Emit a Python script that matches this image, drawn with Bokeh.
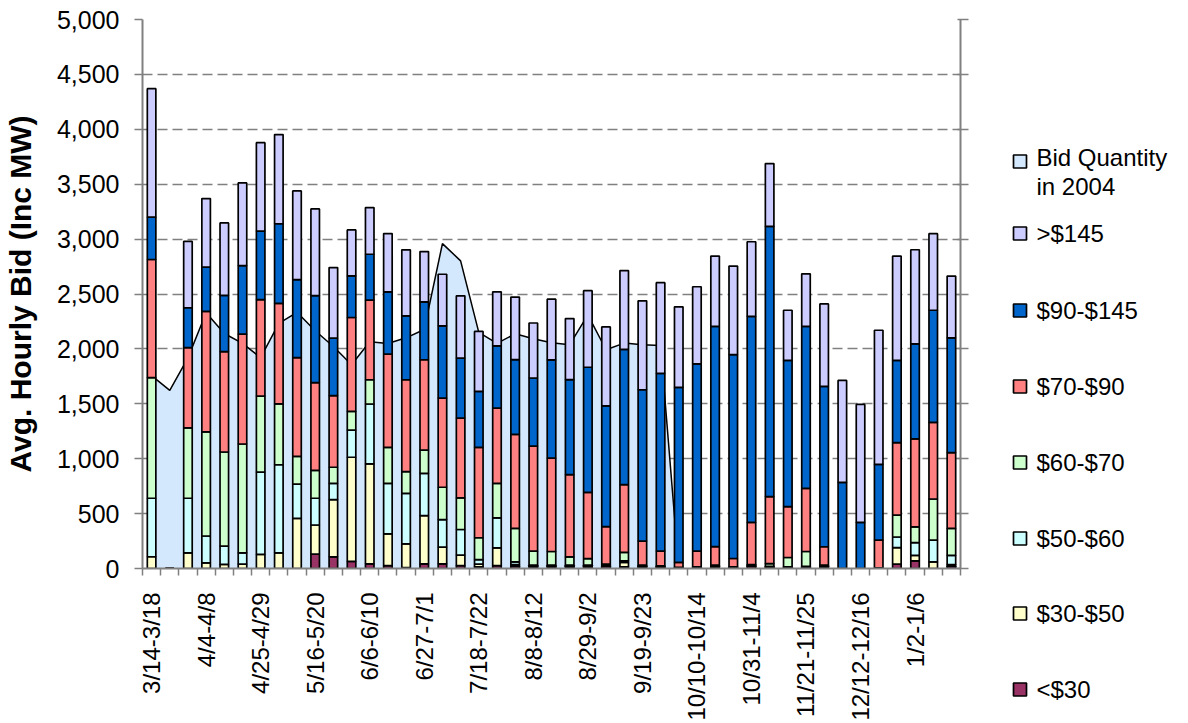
import math
from bokeh.plotting import figure
from bokeh.layouts import row, column
from bokeh.core.properties import value
from bokeh.models import (Range1d, FixedTicker, SingleIntervalTicker, NumeralTickFormatter,
                          LinearAxis, ColumnDataSource)
from bokeh.embed import file_html
from bokeh.resources import INLINE

# ---------------- data ----------------
weeks = ["3/14-3/18", "3/21-3/25", "3/28-4/1", "4/4-4/8", "4/11-4/15", "4/18-4/22",
         "4/25-4/29", "5/2-5/6", "5/9-5/13", "5/16-5/20", "5/23-5/27", "5/30-6/3",
         "6/6-6/10", "6/13-6/17", "6/20-6/24", "6/27-7/1", "7/4-7/8", "7/11-7/15",
         "7/18-7/22", "7/25-7/29", "8/1-8/5", "8/8-8/12", "8/15-8/19", "8/22-8/26",
         "8/29-9/2", "9/5-9/9", "9/12-9/16", "9/19-9/23", "9/26-9/30", "10/3-10/7",
         "10/10-10/14", "10/17-10/21", "10/24-10/28", "10/31-11/4", "11/7-11/11",
         "11/14-11/18", "11/21-11/25", "11/28-12/2", "12/5-12/9", "12/12-12/16",
         "12/19-12/23", "12/26-12/30", "1/2-1/6", "1/9-1/13", "1/16-1/20"]

shown_labels = ["3/14-3/18", "4/4-4/8", "4/25-4/29", "5/16-5/20", "6/6-6/10", "6/27-7/1",
                "7/18-7/22", "8/8-8/12", "8/29-9/2", "9/19-9/23", "10/10-10/14",
                "10/31-11/4", "11/21-11/25", "12/12-12/16", "1/2-1/6"]

lt30 = [0, 0, 0, 0, 0, 0, 0, 0, 0, 131, 106, 64, 43, 27, 8, 43, 43, 27, 15, 27, 20, 15, 15,
        15, 15, 20, 15, 15, 10, 10, 10, 15, 10, 20, 10, 10, 10, 15, 0, 0, 5, 40, 70, 0, 20]
b30_50 = [107, 0, 143, 52, 37, 40, 128, 143, 457, 265, 522, 949, 909, 288, 216, 439, 151, 95,
          25, 161, 15, 5, 5, 5, 5, 5, 40, 5, 5, 0, 5, 5, 5, 5, 5, 0, 5, 5, 0, 0, 0, 150, 50,
          60, 15]
b50_60 = [533, 0, 497, 244, 167, 103, 750, 802, 311, 244, 148, 248, 546, 461, 461, 385, 252,
          233, 40, 273, 25, 10, 10, 10, 10, 5, 15, 5, 5, 0, 0, 5, 0, 5, 5, 5, 5, 5, 0, 0, 0,
          97, 115, 199, 84]
b60_70 = [1098, 0, 641, 948, 857, 991, 692, 555, 253, 253, 146, 170, 221, 328, 197, 212, 294,
          288, 200, 315, 305, 128, 125, 75, 60, 10, 77, 5, 5, 0, 0, 5, 0, 5, 25, 85, 135, 5,
          0, 0, 0, 200, 145, 374, 246]
b70_90 = [1076, 0, 731, 1098, 915, 1000, 878, 915, 900, 799, 652, 855, 725, 849, 837, 822,
          812, 727, 824, 685, 857, 957, 850, 750, 603, 342, 617, 220, 134, 45, 144, 170, 76,
          385, 609, 463, 575, 168, 0, 0, 254, 660, 801, 697, 691]
b90_145 = [386, 0, 363, 402, 512, 625, 625, 725, 710, 793, 524, 379, 418, 567, 582, 528, 658,
           546, 509, 567, 680, 620, 895, 865, 1140, 1100, 1231, 1378, 1619, 1595, 1705, 2006,
           1857, 1877, 2462, 1333, 1476, 1460, 785, 420, 690, 749, 864, 1022, 1044]
gt145 = [1170, 0, 604, 625, 659, 753, 805, 812, 808, 790, 643, 419, 425, 530, 601, 457, 470,
         567, 546, 492, 570, 501, 553, 556, 697, 718, 718, 810, 825, 733, 702, 639, 806, 679,
         572, 456, 478, 752, 928, 1074, 1221, 949, 858, 697, 563]

bid2004 = [1756, 1622, 1918, 2330, 2140, 2050, 1920, 2232, 2333, 2165, 2022, 1855, 2065,
           2050, 2101, 2177, 2959, 2802, 2150, 2050, 2138, 2093, 2056, 2038, 2310, 1992,
           2053, 2038, 2032, 0]

series_names = ["<$30", "$30-$50", "$50-$60", "$60-$70", "$70-$90", "$90-$145", ">$145"]
series_colors = ["#993366", "#FFFFCC", "#CCFFFF", "#CCFFCC", "#FF8080", "#0066CC", "#CCCCFF"]
area_label = ["Bid Quantity", "in 2004"]
area_color = "#D3E8FD"

# ---------------- main figure ----------------
FONT = "Liberation Sans"
idx = list(range(len(weeks)))
W_MAIN, W_LEG, H = 974, 214, 723

p = figure(width=W_MAIN, height=H, output_backend="svg", toolbar_location=None,
           x_range=Range1d(-0.5, len(weeks) - 0.5), y_range=Range1d(0, 5000),
           min_border_left=141, min_border_right=14, min_border_top=19,
           min_border_bottom=155)
p.outline_line_color = None
p.background_fill_color = "white"

asrc = ColumnDataSource(dict(x=idx[:len(bid2004)], y=bid2004))
p.varea(x="x", y1=0, y2="y", source=asrc, fill_color=area_color)
p.line(x="x", y="y", source=asrc, line_color="black", line_width=1.5)

data = dict(x=idx)
for n, vals in zip(series_names, [lt30, b30_50, b50_60, b60_70, b70_90, b90_145, gt145]):
    data[n] = vals
src = ColumnDataSource(data)
p.vbar_stack(series_names, x="x", width=0.47, source=src, color=series_colors,
             line_color="black", line_width=1.7)

# x axis
xa = p.xaxis[0]
label_pos = [weeks.index(s) for s in shown_labels]
xa.ticker = FixedTicker(ticks=label_pos, minor_ticks=[i - 0.5 for i in range(len(weeks) + 1)])
xa.major_label_overrides = {i: weeks[i] for i in label_pos}
xa.major_label_orientation = math.pi / 2
xa.major_tick_line_color = None
xa.major_tick_out = 0
xa.major_tick_in = 0
xa.minor_tick_out = 7
xa.minor_tick_in = 0
xa.minor_tick_line_color = "#808080"
xa.minor_tick_line_width = 1.5
xa.axis_line_color = "#808080"
xa.axis_line_width = 2
xa.major_label_standoff = 17
xa.major_label_text_font = FONT
xa.major_label_text_font_size = "24px"
xa.major_label_text_color = "black"

# left y axis
ya = p.yaxis[0]
ya.ticker = SingleIntervalTicker(interval=500, num_minor_ticks=0)
ya.formatter = NumeralTickFormatter(format="0,0")
ya.major_tick_out = 8
ya.major_tick_in = 0
ya.major_tick_line_color = "#808080"
ya.major_tick_line_width = 1.5
ya.minor_tick_line_color = None
ya.axis_line_color = "#808080"
ya.axis_line_width = 2
ya.major_label_standoff = 15
ya.major_label_text_font = FONT
ya.major_label_text_font_size = "25px"
ya.major_label_text_color = "black"
ya.axis_label = "Avg. Hourly Bid (Inc MW)"
ya.axis_label_text_font = FONT
ya.axis_label_text_font_size = "30px"
ya.axis_label_text_font_style = "bold"
ya.axis_label_text_color = "black"
ya.axis_label_standoff = 17

# right y axis (ticks only)
ra = LinearAxis(ticker=SingleIntervalTicker(interval=500, num_minor_ticks=0))
ra.major_tick_out = 8
ra.major_tick_in = 3
ra.major_tick_line_color = "#808080"
ra.major_tick_line_width = 1.5
ra.minor_tick_line_color = None
ra.axis_line_color = "#808080"
ra.axis_line_width = 2
ra.major_label_text_alpha = 0
ra.major_label_text_font_size = "1px"
ra.major_label_standoff = 0
p.add_layout(ra, "right")

p.xgrid.grid_line_color = None
p.ygrid.ticker = SingleIntervalTicker(interval=500, num_minor_ticks=0)
p.ygrid.grid_line_color = "#808080"
p.ygrid.grid_line_width = 1.3
p.ygrid.grid_line_dash = "10 5"

# ---------------- legend panel (page-pixel coordinates, y downwards) ----------------
leg = figure(width=W_LEG, height=H, output_backend="svg", toolbar_location=None,
             x_range=Range1d(0, W_LEG), y_range=Range1d(H, 0),
             x_axis_type=None, y_axis_type=None,
             min_border_left=0, min_border_right=0, min_border_top=0, min_border_bottom=0)
leg.outline_line_color = None
leg.xgrid.grid_line_color = None
leg.ygrid.grid_line_color = None

leg_colors = [area_color] + series_colors[::-1]
leg_y = [161, 233, 310, 386, 462, 538, 613, 689]
sq_x = 45.5
txt_x = 62
leg.rect(x=[sq_x] * len(leg_colors), y=leg_y, width=13, height=13,
         width_units="screen", height_units="screen",
         fill_color=leg_colors, line_color="black", line_width=1.7)
txt_lines = area_label + series_names[::-1]
txt_y = [157, 186] + leg_y[1:]
leg.text(x=[txt_x] * len(txt_lines), y=txt_y, text=txt_lines,
         text_font=value(FONT), text_font_size=value("24px"), text_color="black",
         text_baseline="middle", text_align="left")

open("out.html", "w").write(file_html(row(p, column(leg)), INLINE))
